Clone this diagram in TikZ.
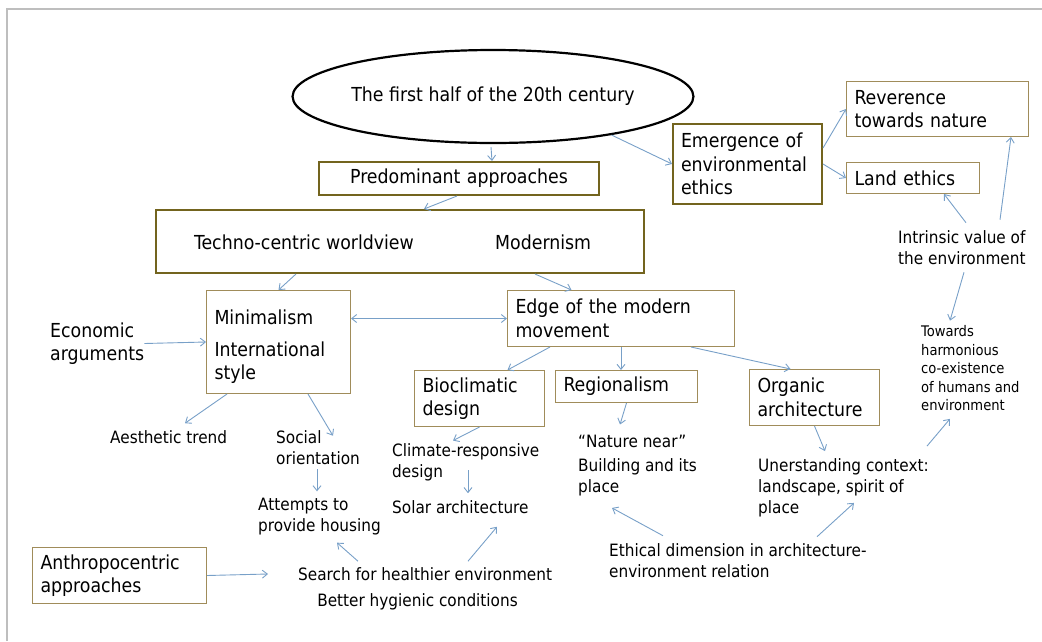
\documentclass[tikz,border=0pt]{standalone}
\usepackage{fontspec}
\setmainfont{DejaVu Sans Condensed}
\usetikzlibrary{shapes.geometric,arrows.meta}
\definecolor{boxtan}{RGB}{160,140,90}
\definecolor{boxolive}{RGB}{115,100,30}
\definecolor{linkblue}{RGB}{120,160,200}
\definecolor{framegray}{RGB}{190,190,190}
\newcommand\bigtxt{\fontsize{19.3}{23.5}\selectfont}
\newcommand\midtxt{\fontsize{17}{21}\selectfont}
\newcommand\smalltxt{\fontsize{14.6}{18.5}\selectfont}
\begin{document}
\begin{tikzpicture}[x=1pt,y=-1pt,
	thinbox/.style={draw=boxtan,line width=1pt,anchor=north west,inner xsep=8pt,inner ysep=0pt,align=left,font=\bigtxt},
	thickbox/.style={thinbox,draw=boxolive,line width=2pt},
	plaintext/.style={inner sep=0pt,align=left,anchor=west,font=\midtxt},
	link/.style={draw=linkblue,line width=0.9pt,-{Straight Barb[length=5pt,width=8pt]}},
	both link/.style={link,{Straight Barb[length=5pt,width=8pt]}-{Straight Barb[length=5pt,width=8pt]}}]
	\useasboundingbox (0,0) rectangle (1042,641);
	\draw[framegray,line width=2pt] (7,641) -- (7,9) -- (1042,9); %frame
	% top part
	\node[ellipse,draw,line width=2.2pt,minimum width=326pt,minimum height=93pt,inner sep=0pt,font=\bigtxt] (century) at (493,96.5) {The first half of the 20th century};
	\node[thickbox,align=center,minimum width=280pt,minimum height=33pt,text width=264pt] (pred) at (318,161) {Predominant approaches};
	\node[thickbox,minimum width=488pt,minimum height=63pt] (modern) at (155,209) {};
	\node[plaintext,font=\bigtxt] (techno) at (194,242) {Techno-centric worldview};
	\node[plaintext,font=\bigtxt] (modernism) at (495,242) {Modernism};
	\node[thickbox,minimum width=149pt,minimum height=80pt,text width=133pt] (emerg) at (672,123) {Emergence of\\environmental\\ethics};
	\node[thinbox,minimum width=182pt,minimum height=55pt,text width=166pt] (rever) at (846,81) {Reverence\\towards nature};
	\node[thinbox,minimum width=133pt,minimum height=31pt,text width=117pt] (land) at (846,162) {Land ethics};
	\node[plaintext] (intrin) at (898,248) {Intrinsic value of\\the environment};
	\node[plaintext,font=\smalltxt] (towards) at (921,368.5) {Towards\\harmonious\\co-existence\\of humans and\\environment};
	% middle part
	\node[thinbox,minimum width=144pt,minimum height=103pt,text width=128pt] (minim) at (206,290) {\rule{0pt}{24pt}Minimalism\\[8pt]International\\style};
	\node[thinbox,minimum width=227pt,minimum height=56pt,text width=211pt] (edge) at (507,290) {Edge of the modern\\movement};
	\node[plaintext,font=\bigtxt] (econ) at (50,343.5) {Economic\\arguments};
	\node[plaintext] (aesth) at (110,437) {Aesthetic trend};
	\node[plaintext] (social) at (276,447.5) {Social\\orientation};
	\node[plaintext] (attempts) at (258,517) {Attempts to\\provide housing};
	\node[thinbox,minimum width=130pt,minimum height=56pt,text width=114pt] (bio) at (414,370) {Bioclimatic\\design};
	\node[plaintext] (climate) at (392,462.5) {Climate-responsive\\design};
	\node[plaintext] (solar) at (392,507) {Solar architecture};
	\node[thinbox,minimum width=142pt,minimum height=32pt,text width=126pt] (region) at (555,370) {Regionalism};
	\node[plaintext] (nature) at (578,441) {“Nature near”};
	\node[plaintext] (building) at (578,477.5) {Building and its\\place};
	\node[thinbox,minimum width=130pt,minimum height=56pt,text width=114pt] (organic) at (749,369) {Organic\\architecture};
	\node[plaintext] (under) at (758,487.5) {Unerstanding context:\\landscape, spirit of\\place};
	% bottom part
	\node[thinbox,minimum width=174pt,minimum height=56pt,text width=158pt] (anthro) at (32,547) {Anthropocentric\\approaches};
	\node[plaintext] (search) at (298,574) {Search for healthier environment};
	\node[plaintext,anchor=center] (hyg) at (417.5,602) {Better hygienic conditions};
	\node[plaintext] (ethical) at (609,561) {Ethical dimension in architecture-\\environment relation};
	% arrows
	\draw[link] ([xshift=-2pt,yshift=-3pt]century.south) -- ([xshift=33pt]pred.north);
	\draw[link] ([xshift=-2pt]pred.south) -- ([xshift=24pt]modern.north);
	\draw[link] (century.-18) -- (emerg.west);
	\draw[link] ([yshift=16pt]emerg.east) -- (rever.west);
	\draw[link] (emerg.east) -- (land.west);
	\draw[link] ([xshift=68pt,yshift=8pt]intrin.north west) -- ([xshift=-36pt]land.south east);
	\draw[link] ([xshift=102pt,yshift=11pt]intrin.north west) -- ([xshift=-18pt]rever.south east);
	\draw[link] ([xshift=66pt,yshift=-7pt]intrin.south west) -- ([xshift=29pt,yshift=5pt]towards.north west);
	\draw[link] ([xshift=141pt]modern.south west) -- (minim.north);
	\draw[link] ([xshift=-110pt]modern.south east) -- ([xshift=-49.5pt]edge.north);
	\draw[both link] (edge.west -| minim.east) -- (edge.west); %double arrow
	\draw[link] (econ.east) -- (minim.west);
	\draw[link] ([xshift=21pt]minim.south west) -- ([xshift=75pt,yshift=7pt]aesth.north west);
	\draw[link] ([xshift=102pt]minim.south west) -- ([xshift=57pt,yshift=-5.5pt]social.north west);
	\draw[link] ([xshift=41pt,yshift=-4.5pt]social.south west) -- ([xshift=59pt,yshift=7pt]attempts.north west);
	\draw[link] (anthro.east) -- ([xshift=-30pt]search.west);
	\draw[link] ([xshift=60pt,yshift=6pt]search.north west) -- ([xshift=79pt,yshift=-7pt]attempts.south west);
	\draw[link] ([xshift=170pt,yshift=6pt]search.north west) -- ([xshift=105pt,yshift=-13pt]solar.south west);
	\draw[link] ([xshift=43pt]edge.south west) -- ([xshift=28pt]bio.north);
	\draw[link] (edge.south) -- (edge.south |- region.north);
	\draw[link] ([xshift=-44pt]edge.south east) -- ([xshift=-24pt]organic.north);
	\draw[link] (bio.south) -- ([xshift=61pt,yshift=3pt]climate.north west);
	\draw[link] ([xshift=76pt,yshift=11pt]climate.south west) -- ([xshift=76pt,yshift=7pt]solar.north west);
	\draw[link] (region.south) -- ([xshift=42pt,yshift=10pt]nature.north west);
	\draw[link] ([xshift=54pt,yshift=8pt]ethical.north west) -- ([xshift=34pt,yshift=-11.5pt]building.south west);
	\draw[link] ([xshift=208pt,yshift=7pt]ethical.north west) -- ([xshift=96pt,yshift=14pt]under.south west);
	\draw[link] (organic.south) -- ([xshift=67pt,yshift=7pt]under.north west);
	\draw[link] ([xshift=169pt,yshift=12pt]under.north west) -- ([xshift=29pt,yshift=-7.5pt]towards.south west);
\end{tikzpicture}
\end{document}
